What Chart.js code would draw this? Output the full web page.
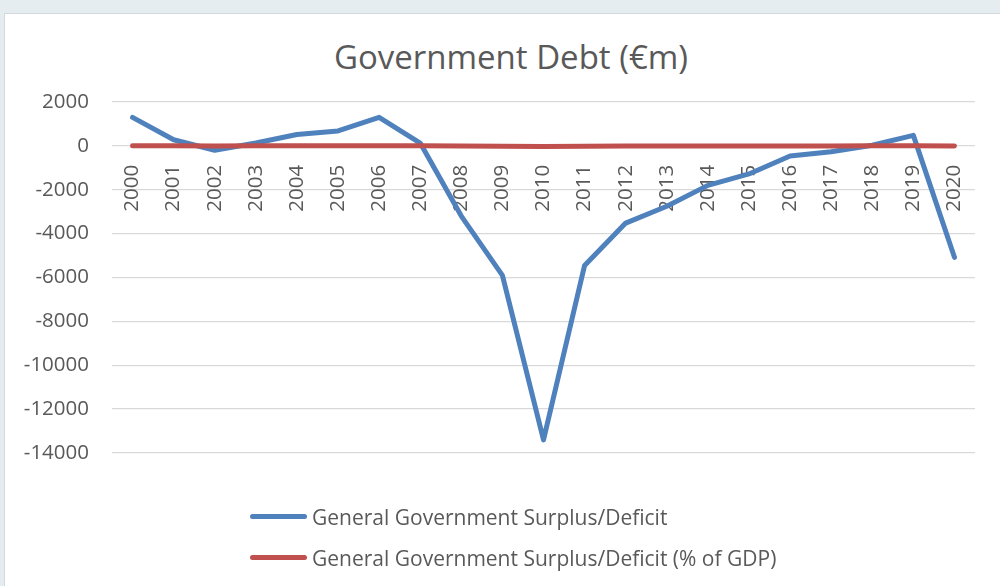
<!DOCTYPE html>
<html>
<head>
<meta charset="utf-8">
<script src="https://cdn.jsdelivr.net/npm/chart.js@4.4.1/dist/chart.umd.min.js"></script>
<style>
  html, body { margin:0; padding:0; width:1000px; height:586px; overflow:hidden; background:#e6edf1; }
  #card { position:absolute; left:4px; top:13px; width:1000px; height:600px; background:#ffffff; border:1px solid #d3dadf; }
  #wrap { position:absolute; left:0; top:0; width:1000px; height:586px; }
  #title { position:absolute; left:311px; width:400px; top:37px; height:40px; line-height:40px; text-align:center;
           font-family:"Open Sans", sans-serif; font-size:33px; color:#595959; white-space:nowrap; }
  #legend { position:absolute; left:250px; top:496px; font-family:"Open Sans", sans-serif; font-size:21px; color:#595959; }
  .li { display:flex; align-items:center; height:41px; }
  .sw { width:57px; height:5px; border-radius:3px; margin-right:5px; }
</style>
</head>
<body>
<div id="card"></div>
<div id="title"></div>
<div id="wrap"><canvas id="c"></canvas></div>
<div id="legend"></div>
<script>
const titleText = 'Government Debt (€m)';
const years = ['2000','2001','2002','2003','2004','2005','2006','2007','2008','2009','2010','2011','2012','2013','2014','2015','2016','2017','2018','2019','2020'];
const surplusDeficit = [1300, 280, -200, 130, 520, 680, 1300, 130, -3200, -5900, -13400, -5450, -3520, -2750, -1800, -1280, -460, -270, 30, 480, -5080];
const surplusDeficitPctGDP = [4.8, 0.9, -0.3, 0.4, 1.3, 1.6, 2.8, 0.3, -7.0, -13.9, -32.1, -12.8, -8.1, -6.2, -3.6, -2.0, -0.7, -0.3, 0.1, 0.5, -5.1];
const seriesNames = ['General Government Surplus/Deficit', 'General Government Surplus/Deficit (% of GDP)'];
const seriesColors = ['#4f81bd', '#c0504d'];
const yMin = -14000, yMax = 2000, yStep = 2000;

const textColor = '#595959';
const fontFam = '"Open Sans", sans-serif';

document.getElementById('title').textContent = titleText;

const chart = new Chart(document.getElementById('c'), {
  type: 'line',
  data: {
    labels: years,
    datasets: [
      { label: seriesNames[0], data: surplusDeficit, borderColor: seriesColors[0], backgroundColor: seriesColors[0],
        borderWidth: 5, pointRadius: 0, tension: 0, borderCapStyle: 'round', borderJoinStyle: 'round', order: 1 },
      { label: seriesNames[1], data: surplusDeficitPctGDP, borderColor: seriesColors[1], backgroundColor: seriesColors[1],
        borderWidth: 5, pointRadius: 0, tension: 0, borderCapStyle: 'round', borderJoinStyle: 'round', order: 0 }
    ]
  },
  options: {
    responsive: true,
    maintainAspectRatio: false,
    animation: false,
    layout: { padding: { left: 5, right: 25, top: 102, bottom: 133 } },
    plugins: {
      legend: { display: false },
      tooltip: { enabled: false },
      title: { display: false }
    },
    scales: {
      x: {
        position: { y: 0 },
        offset: true,
        grid: { display: false, drawTicks: false },
        border: { display: false },
        ticks: { autoSkip: false, minRotation: 90, maxRotation: 90, padding: 19, color: textColor,
                 font: { family: fontFam, size: 20.5 } }
      },
      y: {
        min: yMin, max: yMax,
        afterFit: s => { s.width = 107; },
        grid: { color: '#d9d9d9', lineWidth: 1.3, drawTicks: false },
        border: { display: false },
        ticks: { stepSize: yStep, padding: 23, color: textColor, font: { family: fontFam, size: 20.5 },
                 format: { useGrouping: false } }
      }
    }
  }
});

const lg = document.getElementById('legend');
chart.data.datasets.forEach(ds => {
  const row = document.createElement('div'); row.className = 'li';
  const sw = document.createElement('span'); sw.className = 'sw'; sw.style.background = ds.borderColor;
  const tx = document.createElement('span'); tx.textContent = ds.label;
  row.appendChild(sw); row.appendChild(tx); lg.appendChild(row);
});
</script>
</body>
</html>
